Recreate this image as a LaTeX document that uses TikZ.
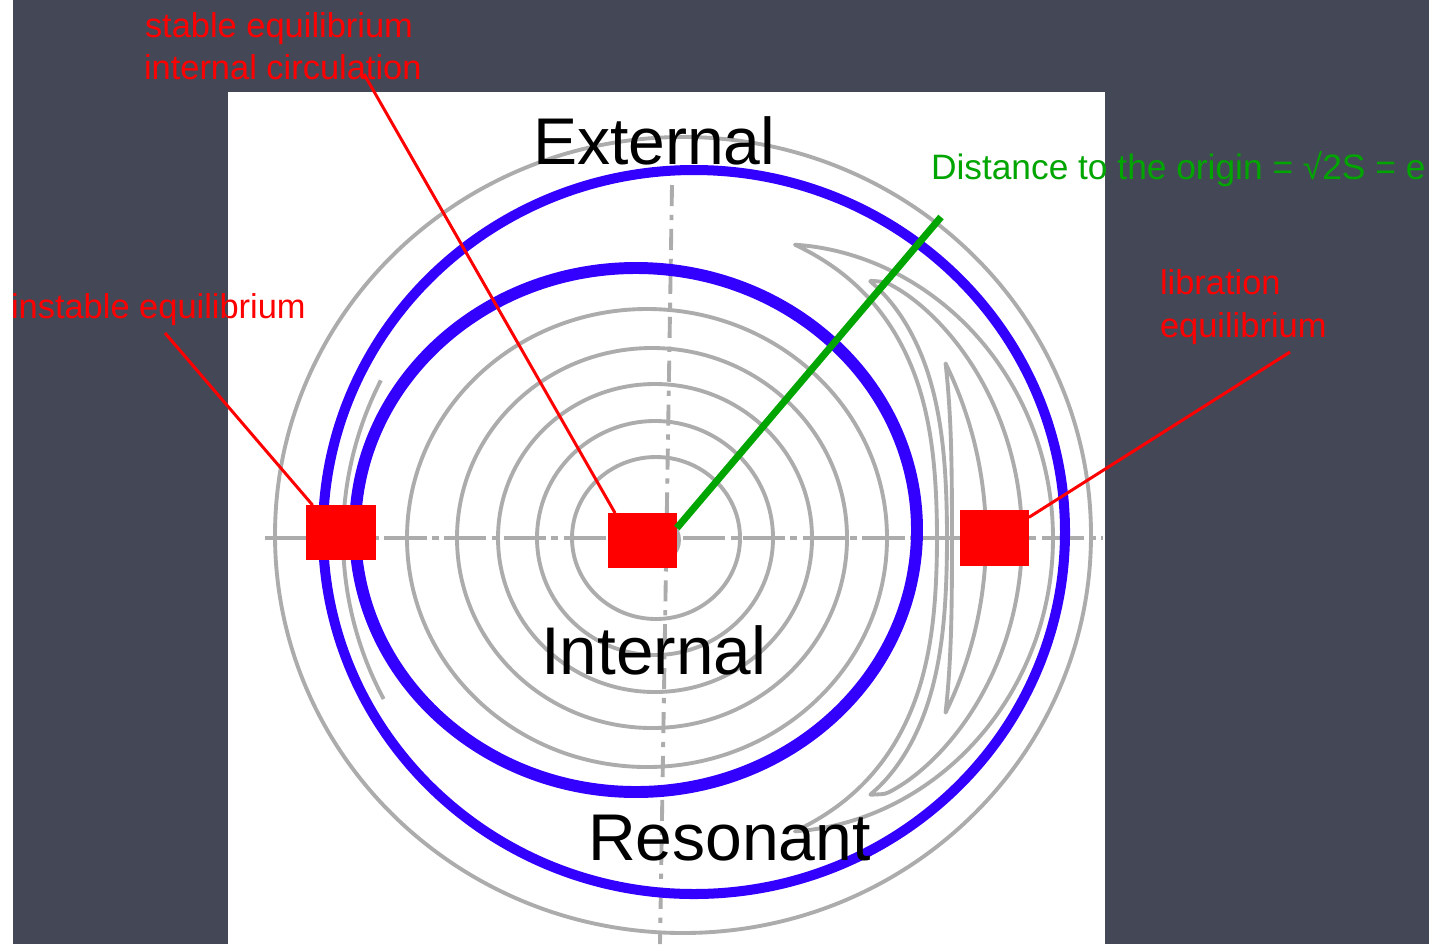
\documentclass[tikz,border=0pt]{standalone}
\usepackage{fontspec}
\setmainfont{Liberation Sans}
\definecolor{board}{RGB}{68,72,86}
\definecolor{contgray}{RGB}{172,172,172}
\definecolor{sepblue}{RGB}{51,0,255}
\definecolor{eqred}{RGB}{255,0,0}
\definecolor{distgreen}{RGB}{0,165,0}
\begin{document}
\begin{tikzpicture}[x=0.02cm,y=-0.02cm,
  graycont/.style={draw=contgray, line width=2.2pt, line join=round},
  axisline/.style={draw=contgray, line width=2.2pt, dash pattern=on 24pt off 3pt on 4pt off 3pt},
  vaxis/.style={draw=contgray, line width=2.2pt, dash pattern=on 12pt off 5pt on 3pt off 5pt},
  innerblue/.style={draw=sepblue, line width=6.8pt},
  outerblue/.style={draw=sepblue, line width=5.7pt},
  redsq/.style={fill=eqred, draw=none, inner sep=0pt, outer sep=0pt},
  redlink/.style={draw=eqred, line width=1.7pt},
  greenlink/.style={draw=distgreen, line width=4pt},
  lab/.style={font=\fontsize{19.6pt}{23.8pt}\selectfont, inner sep=0pt, outer sep=0pt, anchor=base west},
  bigtxt/.style={font=\fontsize{37.6pt}{40pt}\selectfont, inner sep=0pt, outer sep=0pt, anchor=base west},
]
\useasboundingbox (0,0) rectangle (1429,944);
% background
\fill[white] (0,0) rectangle (1429,944);
\fill[board] (13,0) rectangle (1429,944);
\fill[white] (228,92) rectangle (1105,944);

% gray phase portrait
\draw[axisline] (265,538) -- (1103,538);
\draw[vaxis] (672,185) -- (660,944);
\draw[graycont] (657,540) ellipse [x radius=22, y radius=22];
\draw[graycont] (656,538) ellipse [x radius=84, y radius=81];
\draw[graycont] (655,538) ellipse [x radius=118, y radius=117];
\draw[graycont] (655,538) ellipse [x radius=157, y radius=154];
\draw[graycont] (652,538) ellipse [x radius=195, y radius=190];
\draw[graycont] (647,538) ellipse [x radius=240, y radius=229];
\draw[graycont] (683,535) ellipse [x radius=408, y radius=398];
\draw[graycont] plot[domain=153:208, samples=30, smooth] ({690+347*cos(\x)}, {537-345*sin(\x)});
% island loops
\draw[graycont] plot[domain=-1:1, samples=61, smooth] ({655+(325+73*(1-\x*\x))*cos(64.5*\x)}, {538-(325+73*(1-\x*\x))*sin(64.5*\x)})
  -- plot[domain=1:-1, samples=61, smooth] ({655+(325-43*(1-\x*\x)^3)*cos(64.5*\x)}, {538-(325-43*(1-\x*\x)^3)*sin(64.5*\x)}) -- cycle;
\draw[graycont] plot[domain=-1:1, samples=51, smooth] ({655+(335+32*sqrt(abs(1-\x*\x)))*cos(50*\x)}, {538-(335+32*sqrt(abs(1-\x*\x)))*sin(50*\x)})
  -- plot[domain=1:-1, samples=51, smooth] ({655+(335-43*(1-\x*\x)^2)*cos(50*\x)}, {538-(335-43*(1-\x*\x)^2)*sin(50*\x)}) -- cycle;
\draw[graycont] plot[domain=-1:1, samples=41, smooth] ({655+(339-8*(1-\x*\x))*cos(31*\x)}, {538-(339-8*(1-\x*\x))*sin(31*\x)})
  -- plot[domain=1:-1, samples=41, smooth] ({655+(339-42*(1-\x*\x))*cos(31*\x)}, {538-(339-42*(1-\x*\x))*sin(31*\x)}) -- cycle;

% blue separatrices
\draw[innerblue] (636,530) ellipse [x radius=281, y radius=262];
\draw[outerblue] (694,532) ellipse [x radius=371, y radius=362];

% region labels
\node[bigtxt, text=black] (ext) at (533,164) {External};
\node[bigtxt, text=black, font=\fontsize{38.4pt}{40pt}\selectfont] (int) at (541,674) {Internal};
\node[bigtxt, text=black] (res) at (588,860) {Resonant};

% equilibrium squares
\node[redsq, minimum width=39.7pt, minimum height=31.2pt] (sqL) at (341,532.5) {};
\node[redsq, minimum width=39.1pt, minimum height=31.2pt] (sqC) at (642.5,540.5) {};
\node[redsq, minimum width=39.1pt, minimum height=31.8pt] (sqR) at (994.5,538) {};

% annotations
\node[lab, text=eqred] (stab) at (145,37) {stable equilibrium};
\node[lab, text=eqred] (circ) at (144,79) {internal circulation};
\node[lab, text=eqred] (inst) at (11,318) {instable equilibrium};
\node[lab, text=eqred] (libr) at (1160,294) {libration};
\node[lab, text=eqred] (libeq) at (1160,337) {equilibrium};
\node[lab, text=distgreen, font=\fontsize{20.1pt}{24pt}\selectfont] (dist) at (931,179) {Distance to the origin = √2S = e};

\coordinate (circpt) at (364,74);
\coordinate (instpt) at (165,333);
\coordinate (librpt) at (1290,352);
\coordinate (gtip) at (941,217);
\draw[redlink] (circpt) -- (sqC.135);
\draw[redlink] (instpt) -- (sqL.136);
\draw[redlink] (librpt) -- (sqR.31);
\draw[greenlink] (sqC.20) -- (gtip);
\end{tikzpicture}
\end{document}
